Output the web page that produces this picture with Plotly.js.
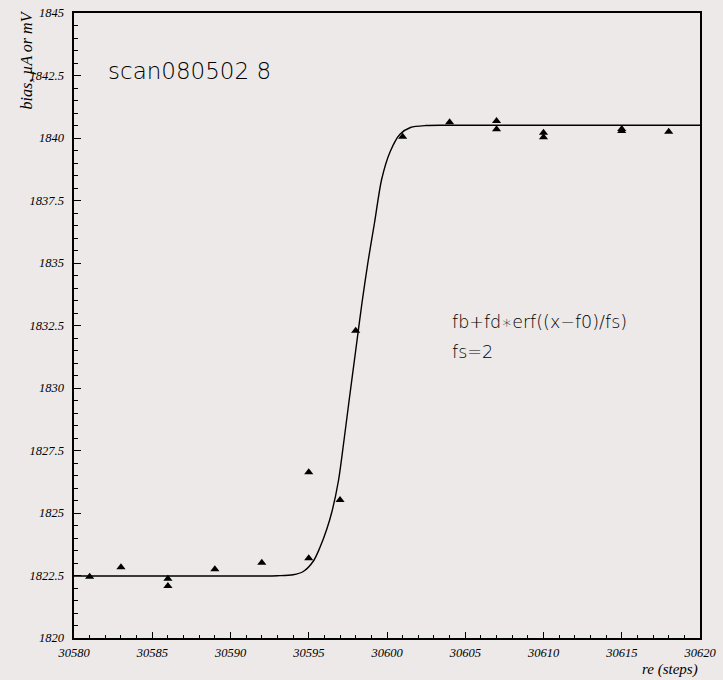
<!DOCTYPE html>
<html>
<head>
<meta charset="utf-8">
<script src="https://cdn.plot.ly/plotly-3.0.1.min.js"></script>
<style>html,body{margin:0;padding:0;background:#ECE9E8;}</style>
</head>
<body>
<div id="chart" style="width:723px;height:680px;"></div>
<script>
// measured points (steps, bias)
const scanX = [30581, 30583, 30586, 30586, 30589, 30592, 30595, 30595, 30597, 30598,
               30601, 30604, 30607, 30607, 30610, 30610, 30615, 30615, 30618];
const scanY = [1822.45, 1822.83, 1822.37, 1822.08, 1822.75, 1823.01, 1823.19, 1826.63, 1825.52, 1832.29,
               1840.05, 1840.63, 1840.68, 1840.35, 1840.21, 1840.03, 1840.36, 1840.28, 1840.25];

// fit curve
const fitX = [30580, 30585, 30590, 30592, 30593, 30594, 30594.65, 30595.3, 30595.7, 30596.15,
              30596.5, 30596.9, 30597.25, 30597.6, 30598.0, 30598.4, 30598.8, 30599.2, 30599.66,
              30600.2, 30600.83, 30601.5, 30602.5, 30604, 30610, 30620];
const fitY = [1822.48, 1822.48, 1822.48, 1822.48, 1822.49, 1822.53, 1822.66, 1823.08, 1823.6, 1824.35,
              1825.1, 1826.3, 1827.9, 1829.6, 1831.5, 1833.4, 1835.1, 1836.6, 1838.35,
              1839.45, 1840.15, 1840.42, 1840.5, 1840.51, 1840.51, 1840.51];

const xTickVals = [30580, 30585, 30590, 30595, 30600, 30605, 30610, 30615, 30620];
const xTickText = ["30580", "30585", "30590", "30595", "30600", "30605", "30610", "30615", "30620"];
const yTickVals = [1820, 1822.5, 1825, 1827.5, 1830, 1832.5, 1835, 1837.5, 1840, 1842.5, 1845];
const yTickText = ["1820", "1822.5", "1825", "1827.5", "1830", "1832.5", "1835", "1837.5", "1840", "1842.5", "1845"];

const bg = '#ECE9E8';
const tickFont = {family: 'Liberation Serif', size: 12.5, color: '#000', style: 'italic'};

const traces = [
  {x: fitX, y: fitY, mode: 'lines', line: {color: '#000', width: 1.4, shape: 'spline', smoothing: 0.8},
   hoverinfo: 'skip', showlegend: false},
  {x: scanX, y: scanY, mode: 'markers', marker: {symbol: 'triangle-up', size: 8, color: '#000'},
   showlegend: false}
];

const layout = {
  width: 723, height: 680,
  paper_bgcolor: bg, plot_bgcolor: bg,
  margin: {l: 74, r: 23, t: 13, b: 42},
  showlegend: false,
  xaxis: {
    range: [30580, 30620], tickmode: 'array', tickvals: xTickVals, ticktext: xTickText,
    ticks: 'inside', ticklen: 6, tickwidth: 1, tickcolor: '#000',
    minor: {tick0: 30580, dtick: 1, ticks: 'inside', ticklen: 3, tickcolor: '#000', showgrid: false},
    showgrid: false, zeroline: false, showline: true, mirror: true, linecolor: '#000', linewidth: 1.6,
    tickfont: tickFont, ticklabelstandoff: 2
  },
  yaxis: {
    range: [1820, 1845], tickmode: 'array', tickvals: yTickVals, ticktext: yTickText,
    ticks: 'inside', ticklen: 7, tickwidth: 1, tickcolor: '#000',
    minor: {tick0: 1820, dtick: 0.5, ticks: 'inside', ticklen: 4, tickcolor: '#000', showgrid: false},
    showgrid: false, zeroline: false, showline: true, mirror: true, linecolor: '#000', linewidth: 1.6,
    tickfont: tickFont, ticklabelstandoff: 6
  },
  annotations: [
    {text: 'bias, µA or mV', xref: 'paper', yref: 'paper', x: (26 - 74) / 626, y: (638 - 9) / 625,
     xanchor: 'center', yanchor: 'top', textangle: -90, showarrow: false,
     font: {family: 'Liberation Serif', size: 16, color: '#000', style: 'italic'}},
    {text: 're (steps)', xref: 'paper', yref: 'paper', x: 1.0, y: (638 - 669) / 625,
     xanchor: 'right', yanchor: 'middle', showarrow: false,
     font: {family: 'Liberation Serif', size: 15, color: '#000', style: 'italic'}},
    {text: 'scan080502 8', xref: 'paper', yref: 'paper', x: (106 - 74) / 626, y: (638 - 71) / 625,
     xanchor: 'left', yanchor: 'middle', showarrow: false,
     font: {family: 'DejaVu Sans', size: 23, color: '#000', weight: 200}},
    {text: 'fb+fd∗erf((x−f0)/fs)', xref: 'paper', yref: 'paper', x: (450 - 74) / 626, y: (638 - 322) / 625,
     xanchor: 'left', yanchor: 'middle', showarrow: false,
     font: {family: 'DejaVu Sans', size: 17.5, color: '#000', weight: 200}},
    {text: 'fs=2', xref: 'paper', yref: 'paper', x: (450 - 74) / 626, y: (638 - 352) / 625,
     xanchor: 'left', yanchor: 'middle', showarrow: false,
     font: {family: 'DejaVu Sans', size: 17.5, color: '#000', weight: 200}}
  ]
};

Plotly.newPlot('chart', traces, layout, {staticPlot: true, displayModeBar: false});
</script>
</body>
</html>
